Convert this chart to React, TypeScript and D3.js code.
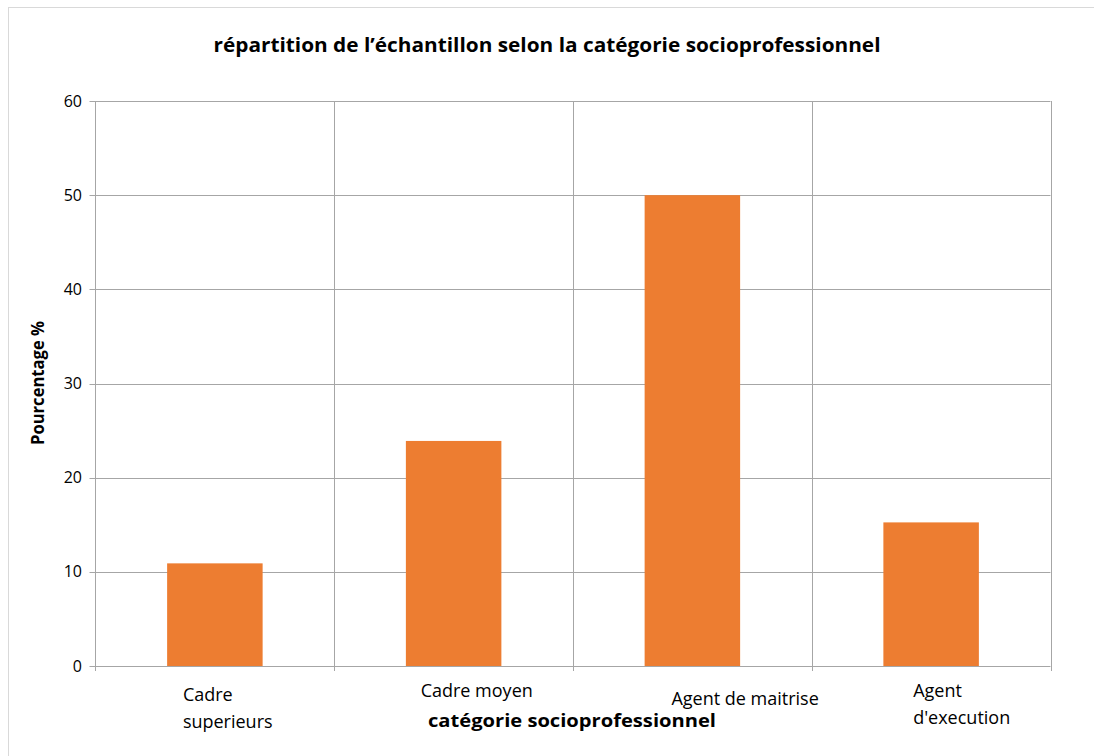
import React from "react";
import * as d3 from "d3";

const categories: string[][] = [
  ["Cadre", "superieurs"],
  ["Cadre moyen"],
  ["Agent de maitrise"],
  ["Agent", "d'execution"],
];
const values: number[] = [10.9, 23.9, 50, 15.25];
const yTicks: number[] = [0, 10, 20, 30, 40, 50, 60];
const title = "répartition de l\u2019échantillon selon la catégorie socioprofessionnel";
const xTitle = "catégorie socioprofessionnel";
const yTitle = "Pourcentage %";

// label layout offsets (relative to band center), style only
const labelLayout = [
  { dx: -32, dy: 1 },
  { dx: -33, dy: -3 },
  { dx: -21, dy: 5 },
  { dx: -18, dy: -3 },
];

const W = 1094;
const H = 756;
const M = { left: 95.5, right: 1050.5, top: 101, bottom: 666 };
const FONT = "'Open Sans', 'DejaVu Sans', sans-serif";

export default function App() {
  const idx = categories.map((_, i) => String(i));
  const x = d3.scaleBand<string>().domain(idx).range([M.left, M.right]).padding(0);
  const y = d3.scaleLinear().domain([0, 60]).range([M.bottom, M.top]);
  const bw = x.bandwidth() * 0.4;
  const grid = "#a6a6a6";
  const boundaries = idx.map((d) => (x(d) as number) + x.bandwidth());

  return (
    <svg width={W} height={H} style={{ position: "absolute", left: 0, top: 0 }}>
      <rect x={8.5} y={7.5} width={1090} height={760} fill="#fff" stroke="#d9d9d9" />
      <text x={547} y={52} textAnchor="middle" fontFamily={FONT} fontWeight="bold" fontSize={20} textLength={667} lengthAdjust="spacingAndGlyphs" fill="#000">
        {title}
      </text>
      {yTicks.map((t) => (
        <g key={t}>
          <line x1={M.left - 6} x2={M.right} y1={Math.round(y(t)) + 0.5} y2={Math.round(y(t)) + 0.5} stroke={grid} strokeWidth={1} />
          <text x={82} y={y(t)} dy="0.35em" textAnchor="end" fontFamily={FONT} fontSize={16} fill="#000">
            {t}
          </text>
        </g>
      ))}
      <line x1={M.left} x2={M.left} y1={M.top} y2={M.bottom + 5} stroke={grid} />
      {boundaries.map((b, i) => (
        <line key={i} x1={Math.round(b) + 0.5} x2={Math.round(b) + 0.5} y1={M.top} y2={M.bottom + 5} stroke={grid} />
      ))}
      {values.map((v, i) => {
        const cx = (x(idx[i]) as number) + x.bandwidth() / 2;
        return <rect key={i} x={cx - bw / 2} y={y(v)} width={bw} height={y(0) - y(v)} fill="#ED7D31" />;
      })}
      {categories.map((lines, i) => {
        const cx = (x(idx[i]) as number) + x.bandwidth() / 2;
        const L = labelLayout[i];
        return (
          <text key={i} x={cx + L.dx} y={700 + L.dy} fontFamily={FONT} fontSize={18} fill="#000">
            {lines.map((ln, j) => (
              <tspan key={j} x={cx + L.dx} dy={j === 0 ? 0 : 27}>
                {ln}
              </tspan>
            ))}
          </text>
        );
      })}
      <text x={428} y={727} fontFamily={FONT} fontWeight="bold" fontSize={17} textLength={288} lengthAdjust="spacingAndGlyphs" fill="#000">
        {xTitle}
      </text>
      <text transform={`translate(44,383) rotate(-90)`} textAnchor="middle" fontFamily={FONT} fontWeight="bold" fontSize={17} textLength={124} lengthAdjust="spacingAndGlyphs" fill="#000">
        {yTitle}
      </text>
    </svg>
  );
}
